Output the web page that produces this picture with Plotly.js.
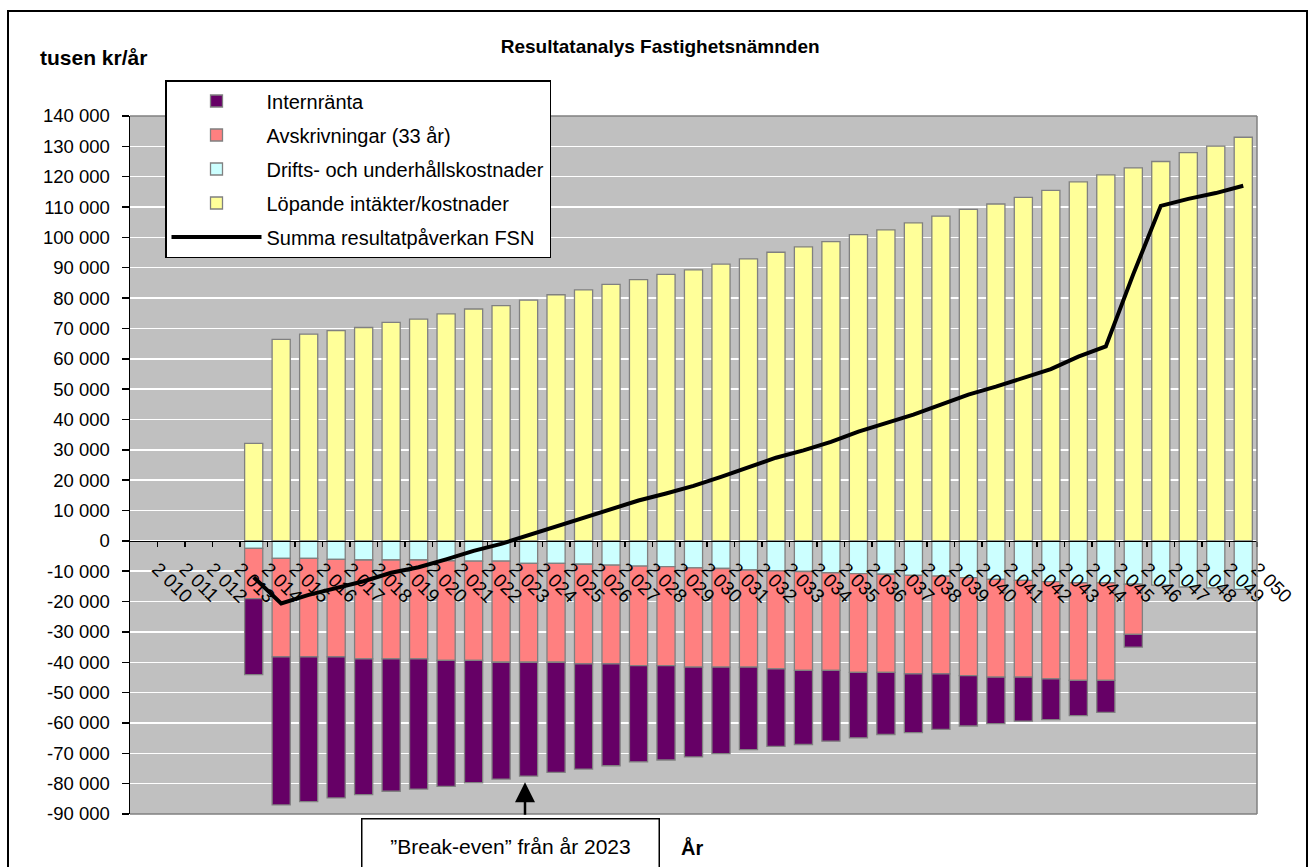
<!DOCTYPE html>
<html>
<head>
<meta charset="utf-8">
<script src="https://cdn.plot.ly/plotly-3.0.1.min.js"></script>
<style>
  html, body { margin: 0; padding: 0; background: #ffffff; }
  #chart { width: 1315px; height: 867px; }
</style>
</head>
<body>
<div id="chart"></div>
<script>
// ---- Data (tusen kr/år) ----
const years = [2013, 2014, 2015, 2016, 2017, 2018, 2019, 2020, 2021, 2022,
               2023, 2024, 2025, 2026, 2027, 2028, 2029, 2030, 2031, 2032,
               2033, 2034, 2035, 2036, 2037, 2038, 2039, 2040, 2041, 2042,
               2043, 2044, 2045, 2046, 2047, 2048, 2049];

const internranta = [-25100, -48800, -47700, -46500, -44700, -43600, -42900, -41500, -40300, -38500,
                     -37500, -36300, -34700, -33600, -31700, -31100, -29600, -28500, -27200, -25500,
                     -24400, -23300, -21600, -20500, -19400, -18300, -16600, -15300, -14500, -13400,
                     -11600, -10500, -4200, null, null, null, null];

const avskrivningar = [-16500, -32400, -32400, -32100, -32600, -32600, -32600, -32800, -32700, -33300,
                       -32600, -32600, -32800, -32500, -32800, -32600, -32700, -32500, -32000, -32300,
                       -32600, -32200, -32500, -32300, -32400, -32200, -32300, -32200, -31900, -32100,
                       -32200, -32200, -16500, null, null, null, null];

const drift = [-2500, -5800, -5800, -6100, -6300, -6300, -6300, -6600, -6700, -6700,
               -7400, -7400, -7700, -8000, -8300, -8500, -8900, -9100, -9600, -9900,
               -10100, -10500, -10800, -11000, -11400, -11600, -12100, -12700, -13000, -13400,
               -13800, -13800, -14300, -14600, -15200, -15500, -16000];

const lopande = [32100, 66400, 68100, 69300, 70300, 72000, 73100, 74800, 76400, 77500,
                 79300, 81100, 82700, 84500, 86100, 87800, 89300, 91200, 92900, 95100,
                 96900, 98600, 100900, 102500, 104800, 107000, 109200, 111000, 113200, 115500,
                 118300, 120600, 122900, 125000, 127900, 130100, 133000];

const summa = [-12000, -20600, -17800, -15400, -13300, -10500, -8700, -6100, -3300, -1000,
               1800, 4800, 7500, 10400, 13300, 15600, 18100, 21100, 24100, 27400,
               29800, 32600, 36000, 38700, 41600, 44900, 48200, 50800, 53800, 56600,
               60700, 64100, 87900, 110400, 112700, 114600, 117000];

// Axis labels
const xTickYears = [2010, 2011, 2012, 2013, 2014, 2015, 2016, 2017, 2018, 2019,
                    2020, 2021, 2022, 2023, 2024, 2025, 2026, 2027, 2028, 2029,
                    2030, 2031, 2032, 2033, 2034, 2035, 2036, 2037, 2038, 2039,
                    2040, 2041, 2042, 2043, 2044, 2045, 2046, 2047, 2048, 2049, 2050];
const xTickLabels = ["2 010", "2 011", "2 012", "2 013", "2 014", "2 015", "2 016", "2 017", "2 018", "2 019",
                     "2 020", "2 021", "2 022", "2 023", "2 024", "2 025", "2 026", "2 027", "2 028", "2 029",
                     "2 030", "2 031", "2 032", "2 033", "2 034", "2 035", "2 036", "2 037", "2 038", "2 039",
                     "2 040", "2 041", "2 042", "2 043", "2 044", "2 045", "2 046", "2 047", "2 048", "2 049", "2 050"];
const yTickVals = [-90000, -80000, -70000, -60000, -50000, -40000, -30000, -20000, -10000, 0,
                   10000, 20000, 30000, 40000, 50000, 60000, 70000, 80000, 90000, 100000,
                   110000, 120000, 130000, 140000];
const yTickLabels = ["-90 000", "-80 000", "-70 000", "-60 000", "-50 000", "-40 000", "-30 000", "-20 000", "-10 000", "0",
                     "10 000", "20 000", "30 000", "40 000", "50 000", "60 000", "70 000", "80 000", "90 000", "100 000",
                     "110 000", "120 000", "130 000", "140 000"];

const breakEvenYear = 2023;

// ---- Styling ----
const FONT = '"Liberation Sans", Arial, Helvetica, sans-serif';
const barLine = { color: '#808080', width: 1.3 };
const BAR_W = 0.66;

const traces = [
  { type: 'bar', name: 'Drifts- och underhållskostnader', x: years, y: drift, width: BAR_W,
    marker: { color: '#CCFFFF', line: barLine }, legendrank: 3, legendgroup: 'g3', hoverinfo: 'x+y' },
  { type: 'bar', name: 'Avskrivningar (33 år)', x: years, y: avskrivningar, width: BAR_W,
    marker: { color: '#FF8080', line: barLine }, legendrank: 2, legendgroup: 'g2', hoverinfo: 'x+y' },
  { type: 'bar', name: 'Internränta', x: years, y: internranta, width: BAR_W,
    marker: { color: '#660066', line: barLine }, legendrank: 1, legendgroup: 'g1', hoverinfo: 'x+y' },
  { type: 'bar', name: 'Löpande intäkter/kostnader', x: years, y: lopande, width: BAR_W,
    marker: { color: '#FFFF99', line: barLine }, legendrank: 4, legendgroup: 'g4', hoverinfo: 'x+y' },
  { type: 'scatter', mode: 'lines', name: 'Summa resultatpåverkan FSN', x: years, y: summa,
    line: { color: '#000000', width: 4 }, legendrank: 5, legendgroup: 'g5', hoverinfo: 'x+y' }
];

// geometry helpers (plot area 130..1257 px wide, 116..814 px tall)
const L = 130, T = 116, W = 1127, H = 698;
const px = v => (v - L) / W;           // page x -> paper x
const py = v => (T + H - v) / H;       // page y -> paper y

const layout = {
  width: 1315, height: 867,
  margin: { l: L, r: 1315 - L - W, t: T, b: 867 - T - H, pad: 0 },
  paper_bgcolor: '#ffffff',
  plot_bgcolor: '#C0C0C0',
  font: { family: FONT, color: '#000000', size: 18 },
  barmode: 'relative',
  showlegend: true,
  title: {
    text: '<b>Resultatanalys Fastighetsnämnden</b>',
    font: { family: FONT, size: 19, color: '#000000' },
    xref: 'container', x: 0.502, xanchor: 'center',
    yref: 'container', y: 1 - 46 / 867, yanchor: 'middle'
  },
  xaxis: {
    range: [2008.5, 2049.5],
    anchor: 'free', position: 90000 / 230000,
    tickmode: 'array',
    tickvals: xTickYears.map(v => v - 0.5),
    ticktext: xTickLabels,
    tickangle: 45,
    tickfont: { family: FONT, size: 19, color: '#000000' },
    ticks: 'outside', ticklen: 5, tickwidth: 1.5, tickcolor: '#000000',
    ticklabelstandoff: 3,
    showline: true, linecolor: '#000000', linewidth: 1.5,
    showgrid: false, zeroline: false, fixedrange: true
  },
  yaxis: {
    range: [-90000, 140000],
    domain: [0, 1],
    tickmode: 'array',
    tickvals: yTickVals,
    ticktext: yTickLabels,
    tickfont: { family: FONT, size: 18.5, color: '#000000' },
    ticks: 'outside', ticklen: 7, tickwidth: 1.5, tickcolor: '#000000',
    ticklabelstandoff: 8,
    showline: true, linecolor: '#000000', linewidth: 1.5,
    showgrid: true, gridcolor: '#FFFFFF', gridwidth: 1.5,
    zeroline: false, fixedrange: true
  },
  legend: {
    x: px(165), y: py(80), xanchor: 'left', yanchor: 'top',
    bgcolor: '#FFFFFF', bordercolor: '#000000', borderwidth: 1.5,
    font: { family: FONT, size: 20, color: '#000000' },
    traceorder: 'grouped', tracegroupgap: 5, itemwidth: 90,
    itemclick: false, itemdoubleclick: false
  },
  shapes: [
    // gray plot-area border (top, right, bottom)
    { type: 'line', xref: 'paper', yref: 'paper', x0: 0, x1: 1, y0: 1, y1: 1, line: { color: '#808080', width: 1.5 } },
    { type: 'line', xref: 'paper', yref: 'paper', x0: 1, x1: 1, y0: 0, y1: 1, line: { color: '#808080', width: 1.5 } },
    { type: 'line', xref: 'paper', yref: 'paper', x0: 0, x1: 1, y0: 0, y1: 0, line: { color: '#808080', width: 1.5 } },
    // outer chart frame
    { type: 'rect', xref: 'paper', yref: 'paper', x0: px(8), x1: px(1307), y0: py(880), y1: py(11),
      line: { color: '#000000', width: 2 }, fillcolor: 'rgba(0,0,0,0)' }
  ],
  annotations: [
    { text: '<b>tusen kr/år</b>', xref: 'paper', yref: 'paper', x: px(38), y: py(57),
      xanchor: 'left', yanchor: 'middle', showarrow: false,
      font: { family: FONT, size: 21, color: '#000000' } },
    { text: '<b>År</b>', xref: 'paper', yref: 'paper', x: px(692), y: py(848),
      xanchor: 'center', yanchor: 'middle', showarrow: false,
      font: { family: FONT, size: 20, color: '#000000' } },
    { text: '”Break-even” från år ' + breakEvenYear, xref: 'paper', yref: 'paper',
      x: px(510), y: py(818), xanchor: 'center', yanchor: 'top', showarrow: false,
      width: 292, height: 50, borderpad: 2, align: 'center', valign: 'middle',
      bgcolor: '#FFFFFF', bordercolor: '#000000', borderwidth: 1.5,
      font: { family: FONT, size: 21, color: '#000000' } },
    { text: '', xref: 'x', yref: 'y', x: breakEvenYear - 0.13, y: -79500,
      showarrow: true, ax: 0, ay: 34, axref: 'pixel', ayref: 'pixel',
      arrowhead: 2, arrowsize: 1.6, arrowwidth: 2.5, arrowcolor: '#000000', standoff: 0, startstandoff: 0 }
  ]
};

Plotly.newPlot('chart', traces, layout, { displayModeBar: false, staticPlot: true });
</script>
</body>
</html>
